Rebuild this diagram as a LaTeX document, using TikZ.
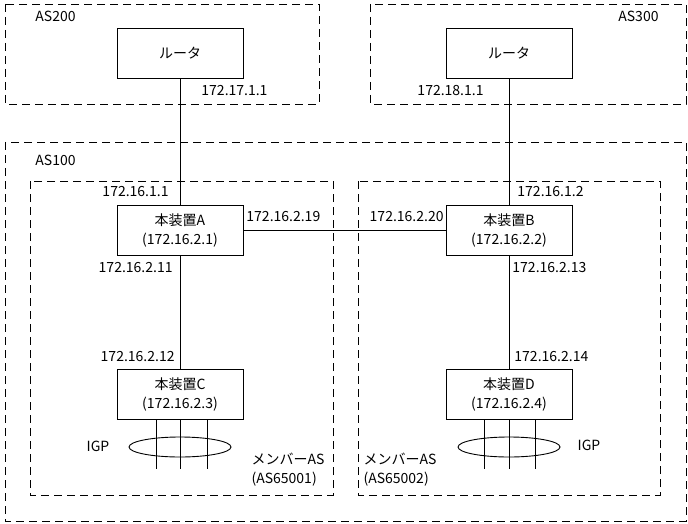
\documentclass[tikz,border=0pt]{standalone}
\usepackage{fontspec}
\setmainfont{Noto Sans CJK JP}
\begin{document}
\begin{tikzpicture}[x=1pt, y=-1pt, line width=0.9pt,
  font=\fontsize{14}{19}\selectfont,
  device/.style={draw, rectangle, minimum width=126pt, minimum height=50pt, align=center, inner sep=0pt},
  addr/.style={inner sep=0pt},
  asbox/.style={dash pattern=on 8pt off 5pt}]
\useasboundingbox (0,0) rectangle (688,524);
% AS areas
\draw[asbox] (5,4) rectangle (319,104);
\draw[asbox] (370,4) rectangle (686,104);
\draw[asbox] (5,142) rectangle (686,521);
\draw[asbox] (30,181) rectangle (333,495);
\draw[asbox] (358,181) rectangle (660,495);
\node[addr, anchor=west] (as200) at (35,16) {AS200};
\node[addr, anchor=east] (as300) at (659,16) {AS300};
\node[addr, anchor=west] (as100) at (35,160) {AS100};
% routers
\node[device] (rtrL) at (180,53.5) {ルータ};
\node[device] (rtrR) at (509,53.5) {ルータ};
% devices
\node[device] (devA) at (180,230.5) {本装置A\\(172.16.2.1)};
\node[device] (devB) at (509,230.5) {本装置B\\(172.16.2.2)};
\node[device] (devC) at (180,394) {本装置C\\(172.16.2.3)};
\node[device] (devD) at (509,394) {本装置D\\(172.16.2.4)};
\draw (rtrL) -- (devA);
\draw (rtrR) -- (devB);
\draw (devA) -- (devB);
\draw (devA) -- (devC);
\draw (devB) -- (devD);
% addresses
\node[addr, anchor=west] (ip1) at (201,91) {172.17.1.1};
\node[addr, anchor=east] (ip2) at (484,91) {172.18.1.1};
\node[addr, anchor=east] (ip3) at (169,192) {172.16.1.1};
\node[addr, anchor=west] (ip4) at (246,217) {172.16.2.19};
\node[addr, anchor=east] (ip5) at (173,268) {172.16.2.11};
\node[addr, anchor=east] (ip6) at (444,217) {172.16.2.20};
\node[addr, anchor=west] (ip7) at (517,192) {172.16.1.2};
\node[addr, anchor=west] (ip8) at (512,268) {172.16.2.13};
\node[addr, anchor=east] (ip9) at (175,357) {172.16.2.12};
\node[addr, anchor=west] (ip10) at (514,357) {172.16.2.14};
% IGP
\coordinate (cl1) at (156,469);
\coordinate (cl2) at (180,469);
\coordinate (cl3) at (207,469);
\coordinate (dl1) at (484,469);
\coordinate (dl2) at (509,469);
\coordinate (dl3) at (535,469);
\draw (180,447) ellipse [x radius=51pt, y radius=10pt];
\draw (509,447) ellipse [x radius=51pt, y radius=10pt];
\foreach \c in {cl1,cl2,cl3} \draw (devC.south -| \c) -- (\c);
\foreach \c in {dl1,dl2,dl3} \draw (devD.south -| \c) -- (\c);
\node[addr] (igpC) at (98,446) {IGP};
\node[addr] (igpD) at (589,445) {IGP};
\node[addr, align=left] (memC) at (288,470) {メンバーAS\\(AS65001)};
\node[addr, align=left] (memD) at (400,470) {メンバーAS\\(AS65002)};
\end{tikzpicture}
\end{document}
